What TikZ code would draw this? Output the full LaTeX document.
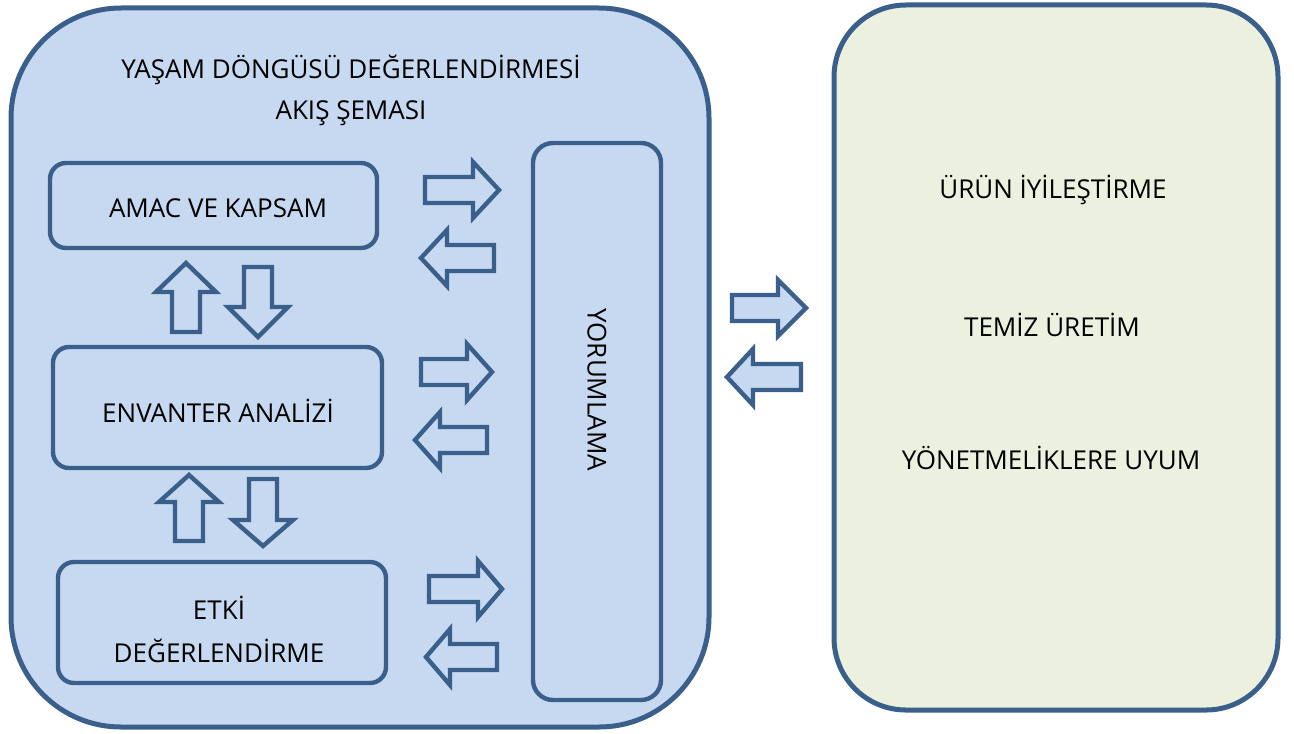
\documentclass[tikz,border=0pt]{standalone}
\usepackage{fontspec}
\setmainfont{Open Sans}
\definecolor{dblue}{HTML}{3A5F8B}
\definecolor{lblue}{HTML}{C6D9F0}
\definecolor{lgreen}{HTML}{EBF1DE}
\tikzset{
  outerbox/.style={draw=dblue, line width=2.5pt, rectangle, inner sep=0pt},
  innerbox/.style={draw=dblue, line width=2.2pt, rectangle, rounded corners=8pt, fill=lblue, inner sep=0pt},
  lbl/.style={font=\fontsize{13}{20.5}\selectfont, align=center, inner sep=0pt},
  blockarr/.style={draw=dblue, fill=lblue, line width=2.2pt, line join=miter}
}
\newcommand\harr[4]{\draw[blockarr] ({#1},{#4-13}) -- ({#2},{#4-13}) -- ({#2},{#4-28}) -- ({#3},{#4}) -- ({#2},{#4+28}) -- ({#2},{#4+13}) -- ({#1},{#4+13}) -- cycle;}
\newcommand\varr[4]{\draw[blockarr] ({#1-14},{#2}) -- ({#1-14},{#3}) -- ({#1-30},{#3}) -- ({#1},{#4}) -- ({#1+30},{#3}) -- ({#1+14},{#3}) -- ({#1+14},{#2}) -- cycle;}
\begin{document}
\begin{tikzpicture}[x=0.5pt, y=-0.5pt]
\useasboundingbox (0,0) rectangle (1294,733);
% big boxes
\node[outerbox, fill=lblue, rounded corners=55pt, minimum width=349pt, minimum height=359.5pt] (lca) at (360,367.5) {};
\node[outerbox, fill=lgreen, rounded corners=36pt, minimum width=222pt, minimum height=352.5pt] (app) at (1056,357.5) {};
% title
\node[lbl] (title) at (351,90) {YAŞAM DÖNGÜSÜ DEĞERLENDİRMESİ\\AKIŞ ŞEMASI};
% inner boxes
\node[innerbox, minimum width=163.5pt, minimum height=42.5pt] (goal) at (213.5,205.5) {};
\node[lbl] (goalt) at (218,208) {AMAC VE KAPSAM};
\node[innerbox, minimum width=164.5pt, minimum height=60.5pt] (inv) at (217.5,407.5) {};
\node[lbl] (invt) at (218,411) {ENVANTER ANALİZİ};
\node[innerbox, minimum width=164pt, minimum height=60.5pt] (imp) at (222,622.5) {};
\node[lbl, font=\fontsize{13}{21.5}\selectfont] (impt) at (219,629) {ETKİ\\DEĞERLENDİRME};
\node[innerbox, rounded corners=10pt, minimum width=64pt, minimum height=278.5pt] (int) at (597,421.5) {};
\node[lbl, rotate=-90] (intt) at (597,390) {YORUMLAMA};
% right texts
\node[lbl] (a1) at (1053,190) {ÜRÜN İYİLEŞTİRME};
\node[lbl] (a2) at (1052,325) {TEMİZ ÜRETİM};
\node[lbl] (a3) at (1051,458) {YÖNETMELİKLERE UYUM};
% horizontal arrows
\harr{425}{473}{499}{190}
\harr{494}{447}{421}{258}
\harr{421}{467}{492}{372}
\harr{487}{440}{415}{440}
\harr{429}{478}{502}{589}
\harr{497}{450}{426}{657}
\harr{732}{778}{806}{308}
\harr{801}{753}{727}{377}
% vertical arrows
\varr{186}{332}{292}{263}
\varr{258}{267}{307}{337}
\varr{189}{541}{502}{475}
\varr{263}{479}{520}{546}
\end{tikzpicture}
\end{document}
